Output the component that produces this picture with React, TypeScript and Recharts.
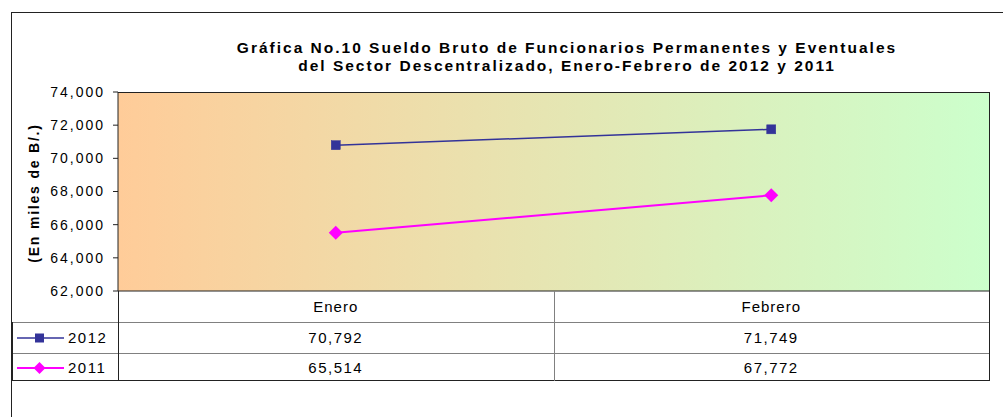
import React from 'react';
import { LineChart, Line, XAxis, YAxis, CartesianGrid } from 'recharts';

const categories = ['Enero', 'Febrero'];
const values2012 = [70792, 71749];
const values2011 = [65514, 67772];
const yTicks = [62000, 64000, 66000, 68000, 70000, 72000, 74000];
const seriesNames = ['2012', '2011'];
const titleLines = [
  'Gráfica No.10 Sueldo Bruto de Funcionarios Permanentes y Eventuales',
  'del Sector Descentralizado, Enero-Febrero de 2012 y 2011',
];
const yLabel = '(En miles de B/.)';

const data = categories.map((c, i) => ({ name: c, y2012: values2012[i], y2011: values2011[i] }));

const FONT = '"Liberation Sans", Arial, sans-serif';
const C2012 = '#333399';
const C2011 = '#FF00FF';

const fmt = (v: number) => v.toLocaleString('en-US');

const SquareDot = (props: any) => {
  const { cx, cy } = props;
  if (cx == null || cy == null) return null;
  return <rect x={cx - 4.5} y={cy - 4.5} width={9} height={9} fill={C2012} stroke={C2012} strokeWidth={0.5} />;
};

const DiamondDot = (props: any) => {
  const { cx, cy } = props;
  if (cx == null || cy == null) return null;
  const r = 7;
  return <polygon points={`${cx},${cy - r} ${cx + r},${cy} ${cx},${cy + r} ${cx - r},${cy}`} fill={C2011} />;
};

const CatTick = (props: any) => {
  const { x, y, payload } = props;
  return (
    <text x={x} y={y + 15} textAnchor="middle" dominantBaseline="central" fontSize={15} letterSpacing={1} fill="#000" fontFamily={FONT}>
      {payload.value}
    </text>
  );
};

// table geometry
const PL = 118, PR = 989, PT = 92, PB = 291;
const MID = (PL + PR) / 2;
const ROW1 = 322, ROW2 = 353, ROW3 = 380;
const TL = 12;

const hLine = (y: number, x1: number, x2: number, color: string, key: string) => (
  <div key={key} style={{ position: 'absolute', left: x1, top: y, width: x2 - x1 + 1, height: 1, background: color }} />
);
const vLine = (x: number, y1: number, y2: number, color: string, key: string) => (
  <div key={key} style={{ position: 'absolute', left: x, top: y1, width: 1, height: y2 - y1 + 1, background: color }} />
);

const cellText = (text: string, cx: number, cy: number, key: string, align: 'center' | 'left' = 'center') => (
  <div
    key={key}
    style={{
      position: 'absolute',
      left: align === 'center' ? cx - 150 : cx,
      top: cy - 10,
      width: 300,
      height: 20,
      lineHeight: '20px',
      textAlign: align,
      fontFamily: FONT,
      fontSize: 15,
      letterSpacing: 1.5,
      color: '#000',
      whiteSpace: 'nowrap',
    }}
  >
    {text}
  </div>
);

const LegendKey = ({ idx, cy }: { idx: number; cy: number }) => {
  const color = idx === 0 ? C2012 : C2011;
  return (
    <svg style={{ position: 'absolute', left: 14, top: cy - 10, width: 54, height: 20 }}>
      <line x1={3} y1={10} x2={50} y2={10} stroke={color} strokeWidth={idx === 0 ? 1.5 : 2} />
      {idx === 0 ? (
        <rect x={21} y={5.5} width={9} height={9} fill={color} />
      ) : (
        <polygon points="25.5,4 31.5,10 25.5,16 19.5,10" fill={color} />
      )}
    </svg>
  );
};

export default function App() {
  const colCenters = [(PL + MID) / 2, (MID + PR) / 2];
  const rowCenters = [(ROW1 + ROW2) / 2 + 0.5, (ROW2 + ROW3) / 2 + 1];
  const seriesValues = [values2012, values2011];
  return (
    <div style={{ position: 'absolute', left: 0, top: 0, width: 1003, height: 417, overflow: 'hidden', background: '#fff' }}>
      {/* outer frame */}
      <div style={{ position: 'absolute', left: 11, top: 12, width: 1100, height: 600, border: '1px solid #222', boxSizing: 'border-box' }} />
      <div style={{ position: 'absolute', left: 0, top: 0 }}>
        <LineChart width={1003} height={417} data={data} margin={{ top: PT, right: 1003 - PR, bottom: 417 - PB - 30, left: PL - 60 }}>
          <defs>
            <linearGradient id="bgGrad" x1="0" y1="0" x2="1" y2="0">
              <stop offset="0%" stopColor="#FFCC99" />
              <stop offset="100%" stopColor="#CCFFCC" />
            </linearGradient>
          </defs>
          <CartesianGrid horizontal={false} vertical={false} fill="url(#bgGrad)" fillOpacity={1} />
          <XAxis
            dataKey="name"
            padding={{ left: (PR - PL) / 4, right: (PR - PL) / 4 }}
            height={30}
            tickLine={false}
            tickSize={0}
            tickMargin={0}
            axisLine={{ stroke: '#222' }}
            tick={<CatTick />}
            interval={0}
          />
          <YAxis
            width={60}
            domain={[62000, 74000]}
            ticks={yTicks}
            tickFormatter={fmt}
            tickSize={5}
            tickMargin={8}
            axisLine={{ stroke: '#222' }}
            tickLine={{ stroke: '#222' }}
            tick={{ fill: '#000', fontSize: 14, letterSpacing: 2, fontFamily: FONT }}
            interval={0}
            allowDataOverflow
          />
          <Line dataKey="y2012" stroke={C2012} strokeWidth={1.5} dot={<SquareDot />} isAnimationActive={false} />
          <Line dataKey="y2011" stroke={C2011} strokeWidth={2} dot={<DiamondDot />} isAnimationActive={false} />
        </LineChart>
      </div>
      {/* plot border top & right */}
      {hLine(PT, PL, PR, '#222', 'pt')}
      {vLine(PR, PT, PB, '#222', 'pr')}
      {/* title & y label */}
      <svg style={{ position: 'absolute', left: 0, top: 0, width: 1003, height: 417, pointerEvents: 'none' }}>
        <text x={567} y={53} textAnchor="middle" fontFamily={FONT} fontWeight="bold" fontSize={15.5} letterSpacing={2} fill="#000">
          {titleLines[0]}
        </text>
        <text x={567} y={71} textAnchor="middle" fontFamily={FONT} fontWeight="bold" fontSize={15.5} letterSpacing={2} fill="#000">
          {titleLines[1]}
        </text>
        <text x={39} y={193} transform="rotate(-90 39 193)" textAnchor="middle" fontFamily={FONT} fontWeight="bold" fontSize={14} letterSpacing={1.8} fill="#000">
          {yLabel}
        </text>
      </svg>
      {/* data table lines */}
      {hLine(ROW1, TL, PR, '#808080', 'r1')}
      {hLine(ROW2, TL, PR, '#808080', 'r2')}
      {hLine(ROW3, TL, PR, '#222', 'r3')}
      {vLine(TL, ROW1, ROW3, '#222', 'tl')}
      {vLine(PL, PB, ROW3, '#222', 'pl')}
      {vLine(MID, PB, ROW3, '#808080', 'mid')}
      {vLine(PR, PB, ROW3, '#222', 'prr')}
      {/* table contents */}
      {seriesNames.map((s, r) => (
        <React.Fragment key={s}>
          <LegendKey idx={r} cy={rowCenters[r]} />
          {cellText(s, 68, rowCenters[r], 'lab' + s, 'left')}
          {seriesValues[r].map((v, c) => cellText(fmt(v), colCenters[c], rowCenters[r], `v${r}${c}`))}
        </React.Fragment>
      ))}
    </div>
  );
}
